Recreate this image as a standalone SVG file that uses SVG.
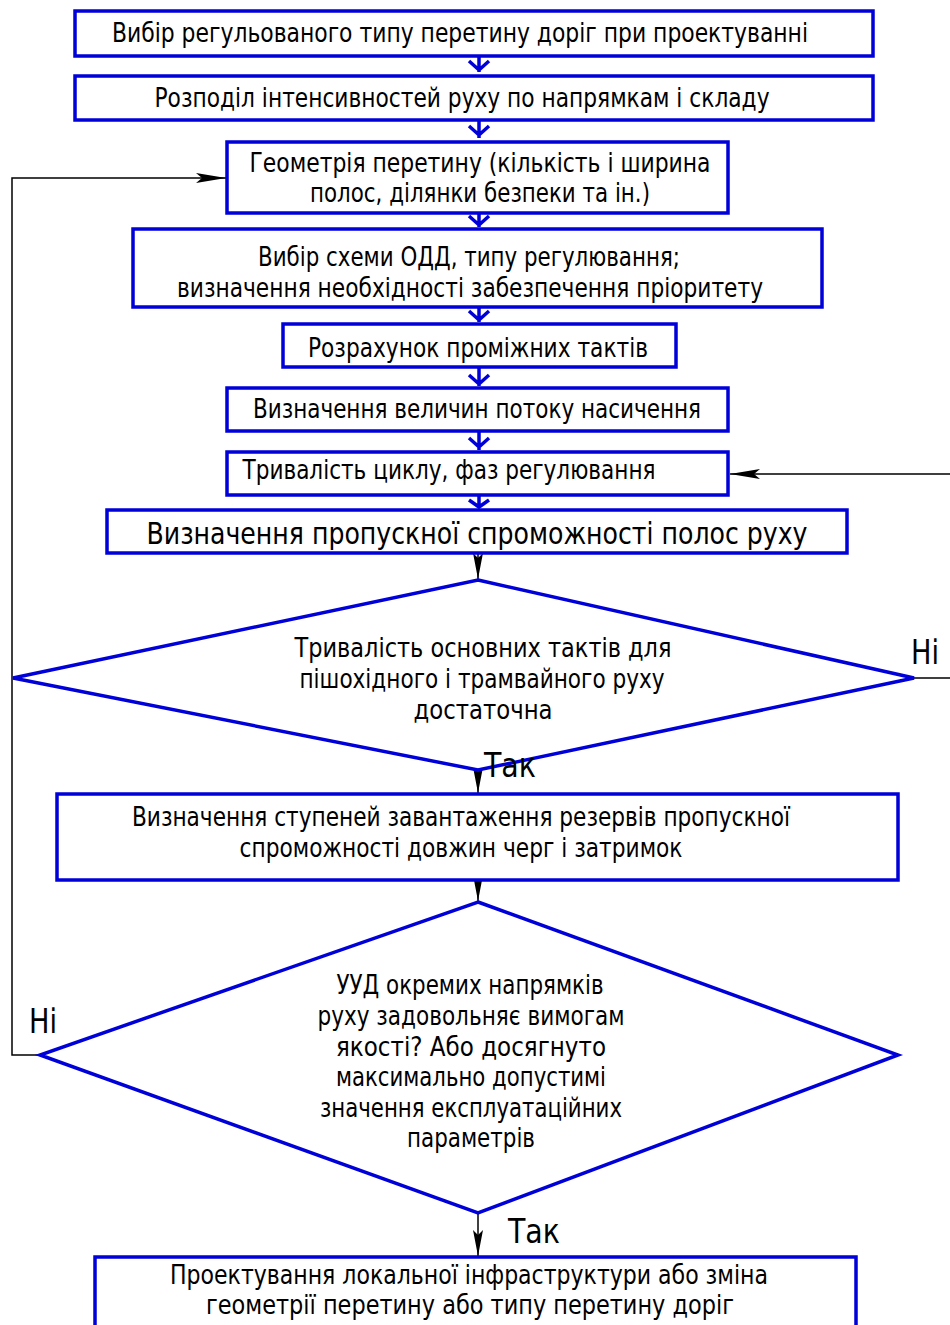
<svg xmlns="http://www.w3.org/2000/svg" width="950" height="1325" viewBox="0 0 950 1325">
<defs>
<style>
.b{fill:#fff;stroke:#0000d8;stroke-width:3.5}
.t{font-family:"DejaVu Sans Condensed","DejaVu Sans",sans-serif;font-size:26px;fill:#000;text-anchor:middle}
.big{font-size:31px}
.lab{font-size:33px}
.l{fill:none;stroke:#000;stroke-width:1.5}
.bl{fill:none;stroke:#0000d8;stroke-width:3.5}
</style>
<marker id="ah" viewBox="0 0 30 10" refX="30" refY="5" markerWidth="30" markerHeight="10" markerUnits="userSpaceOnUse" orient="auto">
<path d="M0,0 L30,5 L0,10 L6,5 Z" fill="#000"/>
</marker>
<marker id="av" viewBox="0 0 10 26" refX="5" refY="26" markerWidth="10" markerHeight="26" markerUnits="userSpaceOnUse" orient="0">
<path d="M0,0 L5,26 L10,0 L5,5 Z" fill="#000"/>
</marker>
</defs>
<rect width="950" height="1325" fill="#fff"/>
<g id="connectors">
<path class="bl" d="M479,56 V72 M469,61 L479,70 L489,61"/>
<path class="bl" d="M479,120 V138 M469,126 L479,135 L489,126"/>
<path class="bl" d="M479,213 V227 M469,216 L479,225 L489,216"/>
<path class="bl" d="M479,307 V322 M469,311 L479,320 L489,311"/>
<path class="bl" d="M479,367 V386 M469,375 L479,384 L489,375"/>
<path class="bl" d="M479,431 V450 M469,438 L479,447 L489,438"/>
<path class="bl" d="M479,495 V508 M469,500 L479,507 L489,500"/>
<path class="l" d="M478,553 V579" marker-end="url(#av)"/>
<path class="l" d="M478,770 V793" marker-end="url(#av)"/>
<path class="l" d="M478,880 V901" marker-end="url(#av)"/>
<path class="l" d="M478,1213 V1256" marker-end="url(#av)"/>
<path class="l" d="M40,1055 H12 V178 H226" marker-end="url(#ah)"/>
<path class="l" d="M914,678 H953 V474 H730" marker-end="url(#ah)"/>
</g>
<g id="n1"><rect class="b" x="75" y="11" width="798" height="45"/><text class="t" x="460" y="42" textLength="696" lengthAdjust="spacingAndGlyphs">Вибір регульованого типу перетину доріг при проектуванні</text></g>
<g id="n2"><rect class="b" x="75" y="76" width="798" height="44"/><text class="t" x="462" y="107" textLength="615" lengthAdjust="spacingAndGlyphs">Розподіл інтенсивностей руху по напрямкам і складу</text></g>
<g id="n3"><rect class="b" x="227" y="142" width="501" height="71"/><text class="t" x="480" y="172" textLength="461" lengthAdjust="spacingAndGlyphs">Геометрія перетину (кількість і ширина</text><text class="t" x="480" y="202" textLength="340" lengthAdjust="spacingAndGlyphs">полос, ділянки безпеки та ін.)</text></g>
<g id="n4"><rect class="b" x="133" y="229" width="689" height="78"/><text class="t" x="469" y="266" textLength="422" lengthAdjust="spacingAndGlyphs">Вибір схеми ОДД, типу регулювання;</text><text class="t" x="470" y="297" textLength="586" lengthAdjust="spacingAndGlyphs">визначення необхідності забезпечення пріоритету</text></g>
<g id="n5"><rect class="b" x="283" y="324" width="393" height="43"/><text class="t" x="478" y="357" textLength="340" lengthAdjust="spacingAndGlyphs">Розрахунок проміжних тактів</text></g>
<g id="n6"><rect class="b" x="227" y="388" width="501" height="43"/><text class="t" x="477" y="418" textLength="448" lengthAdjust="spacingAndGlyphs">Визначення величин потоку насичення</text></g>
<g id="n7"><rect class="b" x="227" y="452" width="501" height="43"/><text class="t" x="449" y="479" textLength="413" lengthAdjust="spacingAndGlyphs">Тривалість циклу, фаз регулювання</text></g>
<g id="n8"><rect class="b" x="107" y="510" width="740" height="43"/><text class="t big" x="477" y="544" textLength="661" lengthAdjust="spacingAndGlyphs">Визначення пропускної спроможності полос руху</text></g>
<g id="n9"><polygon class="b" points="478,580 914,678 478,770 13,678"/><text class="t" x="483" y="657" textLength="377" lengthAdjust="spacingAndGlyphs">Тривалість основних тактів для</text><text class="t" x="482" y="688" textLength="365" lengthAdjust="spacingAndGlyphs">пішохідного і трамвайного руху</text><text class="t" x="483" y="719" textLength="139" lengthAdjust="spacingAndGlyphs">достаточна</text></g>
<g id="n10"><rect class="b" x="57" y="794" width="841" height="86"/><text class="t" x="461" y="826" textLength="658" lengthAdjust="spacingAndGlyphs">Визначення ступеней завантаження резервів пропускної</text><text class="t" x="461" y="857" textLength="443" lengthAdjust="spacingAndGlyphs">спроможності довжин черг і затримок</text></g>
<g id="n11"><polygon class="b" points="478,902 898,1055 478,1213 40,1055"/><text class="t" x="470" y="994" textLength="267" lengthAdjust="spacingAndGlyphs">УУД окремих напрямків</text><text class="t" x="471" y="1025" textLength="307" lengthAdjust="spacingAndGlyphs">руху задовольняє вимогам</text><text class="t" x="471" y="1056" textLength="270" lengthAdjust="spacingAndGlyphs">якості? Або досягнуто</text><text class="t" x="471" y="1086" textLength="270" lengthAdjust="spacingAndGlyphs">максимально допустимі</text><text class="t" x="471" y="1117" textLength="302" lengthAdjust="spacingAndGlyphs">значення експлуатаційних</text><text class="t" x="471" y="1147" textLength="128" lengthAdjust="spacingAndGlyphs">параметрів</text></g>
<g id="n12"><rect class="b" x="95" y="1257" width="761" height="80"/><text class="t" x="469" y="1284" textLength="598" lengthAdjust="spacingAndGlyphs">Проектування локальної інфраструктури або зміна</text><text class="t" x="470" y="1314" textLength="528" lengthAdjust="spacingAndGlyphs">геометрії перетину або типу перетину доріг</text></g>
<g id="labels">
<text class="t lab" x="925" y="664" textLength="28" lengthAdjust="spacingAndGlyphs">Ні</text>
<text class="t lab" x="43" y="1033" textLength="28" lengthAdjust="spacingAndGlyphs">Ні</text>
<text class="t lab" x="510" y="777" textLength="52" lengthAdjust="spacingAndGlyphs">Так</text>
<text class="t lab" x="534" y="1243" textLength="52" lengthAdjust="spacingAndGlyphs">Так</text>
</g>
</svg>
